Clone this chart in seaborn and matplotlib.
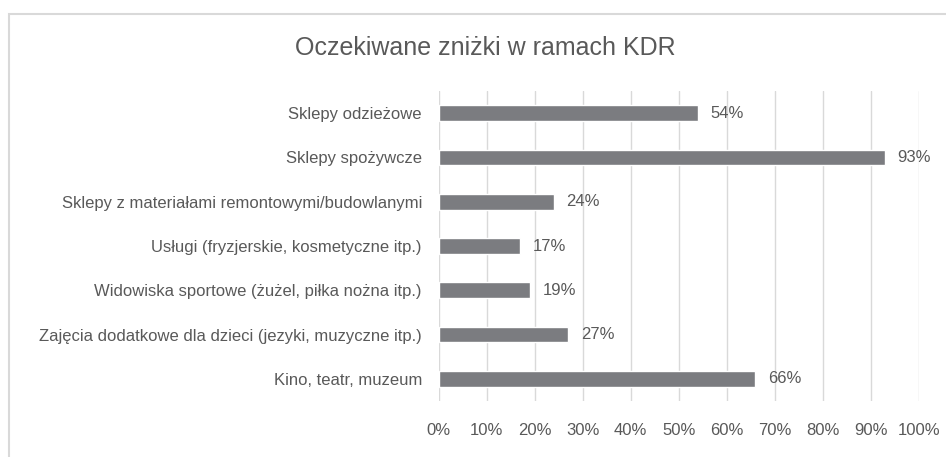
import matplotlib
matplotlib.use("Agg")
import matplotlib.pyplot as plt
import seaborn as sns
import pandas as pd
from matplotlib.patches import Rectangle

kategorie = [
    "Sklepy odzieżowe",
    "Sklepy spożywcze",
    "Sklepy z materiałami remontowymi/budowlanymi",
    "Usługi (fryzjerskie, kosmetyczne itp.)",
    "Widowiska sportowe (żużel, piłka nożna itp.)",
    "Zajęcia dodatkowe dla dzieci (jezyki, muzyczne itp.)",
    "Kino, teatr, muzeum",
]
procent = [54, 93, 24, 17, 19, 27, 66]
ticki = [0, 10, 20, 30, 40, 50, 60, 70, 80, 90, 100]

df = pd.DataFrame({"kategoria": kategorie, "procent": procent})

sns.set_style("white")
plt.rcParams["font.family"] = ["Liberation Sans", "DejaVu Sans"]
szary = "#595959"

fig = plt.figure(figsize=(9.46, 4.57), dpi=100)
ax = fig.add_axes([0.4637, 0.1225, 0.5074, 0.6784])

sns.barplot(data=df, x="procent", y="kategoria", color="#7b7c80",
            saturation=1, width=0.355, ax=ax)

ax.set_xlim(0, 100)
ax.set_ylim(6.5, -0.5)
ax.set_xticks(ticki)
ax.set_xticklabels([f"{t}%" for t in ticki])
ax.grid(axis="x", color="#d9d9d9", linewidth=1)
ax.set_axisbelow(True)
for s in ax.spines.values():
    s.set_visible(False)
ax.tick_params(axis="both", length=0, colors=szary, labelsize=12)
ax.tick_params(axis="x", pad=16)
ax.tick_params(axis="y", pad=12)
ax.set_xlabel(None)
ax.set_ylabel(None)

# etykiety wartosci
for i, v in enumerate(procent):
    ax.text(v + 2.6, i, f"{v}%", va="center", ha="left", color=szary, fontsize=12)

fig.text(0.513, 0.895, "Oczekiwane zniżki w ramach KDR", ha="center", va="center",
         color=szary, fontsize=18)

# ramka wykresu (obcieta z prawej i z dolu)
fig.patches.append(Rectangle((8.5 / 946, -0.1), 1.2, 1.1 - 14.5 / 457,
                             transform=fig.transFigure, fill=False,
                             edgecolor="#d9d9d9", linewidth=1.5))

fig.savefig("out.png", dpi=100)
